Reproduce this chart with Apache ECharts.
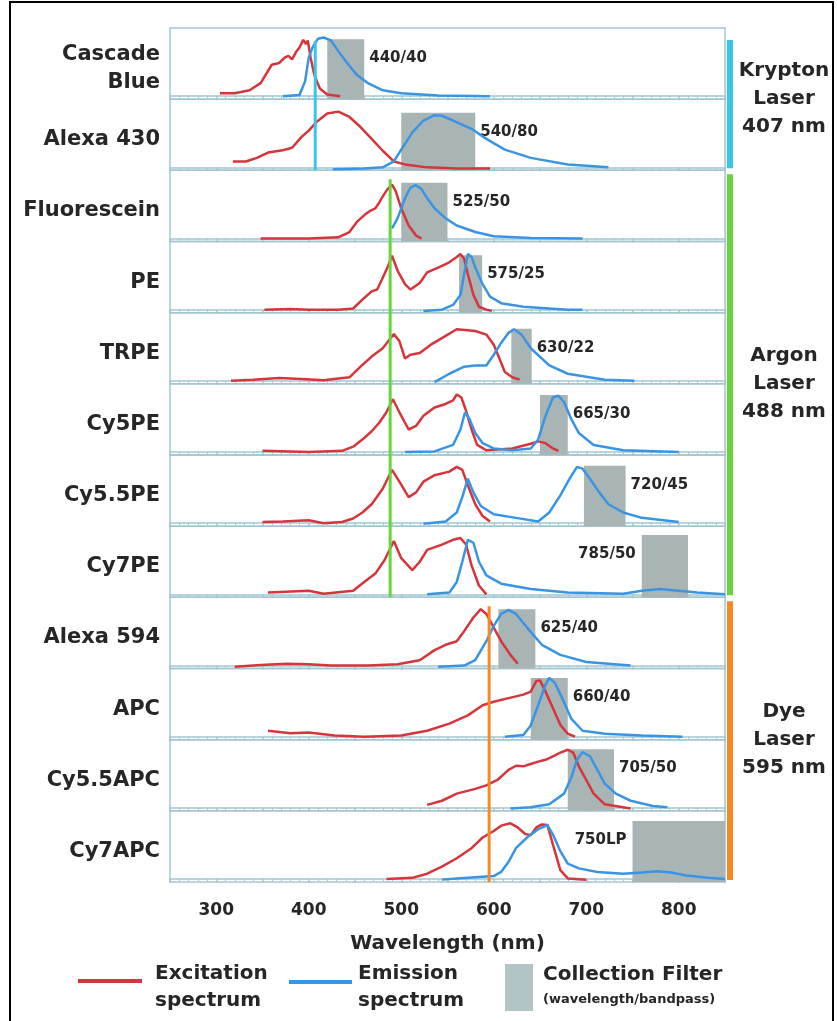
<!DOCTYPE html>
<html>
<head>
<meta charset="utf-8">
<script src="https://cdn.jsdelivr.net/npm/echarts@6/dist/echarts.min.js"></script>
<style>
  html, body { margin: 0; padding: 0; background: #fff; }
  #myChart { width: 837px; height: 1021px; }
</style>
</head>
<body>
<div id="myChart"></div>
<script>
// dye names, one panel each (top to bottom)
const dyeNames = ['Cascade\nBlue', 'Alexa 430', 'Fluorescein', 'PE', 'TRPE', 'Cy5PE',
  'Cy5.5PE', 'Cy7PE', 'Alexa 594', 'APC', 'Cy5.5APC', 'Cy7APC']

// collection filters (wavelength/bandpass)
const filterLabels = ['440/40', '540/80', '525/50', '575/25', '630/22', '665/30',
  '720/45', '785/50', '625/40', '660/40', '705/50', '750LP']
const filterLo = [420, 500, 500, 562.5, 619, 650, 697.5, 760, 605, 640, 680, 750]
const filterHi = [460, 580, 550, 587.5, 641, 680, 742.5, 810, 645, 680, 730, 850]
const filterTop = [0.96, 0.92, 0.94, 0.92, 0.88, 0.96, 0.97, 1.0, 0.95, 0.99, 0.99, 0.98]
const filterLabelSide = ['r', 'r', 'r', 'r', 'r', 'r', 'r', 'l', 'r', 'r', 'r', 'l']

// lasers
const laserNames = ['Krypton\nLaser\n407 nm', 'Argon\nLaser\n488 nm', 'Dye\nLaser\n595 nm']
const laserNm = [407, 488, 595]
const laserFirst = [0, 2, 8]
const laserLast = [1, 7, 11]
const laserStartV = [0.93, 1.0, 1.0]

// spectra: [wavelength nm, relative intensity]
const cascadeBlueEx = [[304,0.05],[320,0.05],[336,0.1],[348,0.22],[360,0.53],[368,0.56],[374,0.65],[378,0.68],[382,0.62],[386,0.74],[390,0.82],[394,0.95],[397,0.88],[399,0.94],[402,0.65],[406,0.36],[412,0.13],[420,0.03],[434,0]]
const cascadeBlueEm = [[372,0],[390,0.02],[396,0.25],[400,0.65],[404,0.82],[410,0.97],[416,0.99],[424,0.94],[432,0.76],[440,0.59],[452,0.36],[464,0.22],[480,0.1],[500,0.05],[540,0.01],[596,0]]
const alexa430Ex = [[318,0.1],[332,0.1],[344,0.16],[356,0.25],[372,0.29],[382,0.33],[392,0.51],[400,0.62],[408,0.76],[420,0.91],[432,0.94],[444,0.85],[456,0.68],[468,0.48],[480,0.28],[492,0.1],[504,0.05],[528,0],[560,-0.02],[596,-0.02]]
const alexa430Em = [[426,-0.03],[460,-0.02],[480,0],[492,0.1],[500,0.3],[512,0.59],[524,0.79],[536,0.88],[544,0.87],[556,0.79],[576,0.65],[592,0.48],[612,0.3],[640,0.16],[680,0.05],[724,0]]
const fluoresceinEx = [[348,0],[400,0],[432,0.02],[444,0.11],[452,0.28],[462,0.42],[468,0.48],[472,0.51],[476,0.6],[480,0.71],[485,0.83],[490,0.91],[494,0.8],[500,0.51],[508,0.22],[516,0.05],[522,0]]
const fluoresceinEm = [[490,0.17],[496,0.34],[504,0.68],[510,0.86],[516,0.9],[522,0.83],[528,0.68],[536,0.51],[548,0.34],[560,0.22],[580,0.11],[600,0.04],[640,0.01],[696,0]]
const peEx = [[352,0],[380,0.01],[400,0],[432,0],[448,0.02],[458,0.17],[468,0.31],[474,0.34],[480,0.54],[485,0.71],[490,0.91],[496,0.66],[504,0.43],[510,0.34],[520,0.45],[528,0.63],[540,0.71],[552,0.8],[560,0.89],[564,0.94],[568,0.86],[572,0.6],[578,0.25],[584,0.05],[592,0],[598,-0.02]]
const peEm = [[524,-0.02],[544,0],[556,0.08],[564,0.25],[568,0.6],[572,0.94],[576,0.89],[580,0.71],[588,0.43],[596,0.22],[608,0.11],[632,0.05],[660,0.02],[680,0],[696,0]]
const trpeEx = [[316,0],[340,0.02],[368,0.05],[392,0.03],[416,0.01],[444,0.06],[456,0.24],[468,0.41],[480,0.55],[492,0.79],[498,0.67],[504,0.38],[510,0.44],[520,0.47],[532,0.61],[544,0.72],[560,0.87],[580,0.84],[592,0.78],[600,0.61],[606,0.38],[612,0.15],[620,0.06],[628,0.02]]
const trpeEm = [[536,-0.02],[552,0.12],[568,0.24],[580,0.26],[592,0.26],[600,0.44],[608,0.64],[616,0.81],[622,0.87],[630,0.78],[640,0.55],[660,0.26],[680,0.12],[720,0.02],[752,0]]
const cy5peEx = [[350,0.02],[400,0],[436,0.02],[448,0.09],[458,0.21],[468,0.35],[476,0.49],[484,0.67],[491,0.89],[498,0.67],[508,0.38],[516,0.44],[524,0.61],[536,0.75],[548,0.81],[556,0.87],[560,0.97],[565,0.92],[570,0.7],[576,0.38],[582,0.12],[592,0.03],[620,0.06],[640,0.14],[648,0.18],[656,0.15],[664,0.06],[670,0.02]]
const cy5peEm = [[504,0],[536,0.01],[556,0.12],[564,0.38],[569,0.67],[574,0.55],[580,0.32],[588,0.15],[600,0.06],[620,0.03],[640,0.06],[648,0.21],[656,0.61],[664,0.92],[670,0.95],[676,0.84],[684,0.55],[692,0.32],[708,0.12],[740,0.03],[800,0]]
const cy55peEx = [[350,0.02],[372,0.03],[400,0.05],[416,0],[436,0.02],[448,0.08],[458,0.18],[468,0.32],[480,0.58],[490,0.9],[498,0.7],[508,0.44],[516,0.52],[524,0.7],[536,0.81],[552,0.87],[560,0.95],[566,0.9],[572,0.64],[580,0.32],[588,0.12],[596,0.03]]
const cy55peEm = [[524,-0.01],[548,0.03],[560,0.18],[566,0.44],[572,0.75],[578,0.52],[586,0.29],[600,0.15],[624,0.09],[648,0.03],[660,0.18],[672,0.47],[682,0.75],[690,0.95],[696,0.92],[704,0.75],[714,0.52],[724,0.32],[740,0.18],[760,0.09],[800,0.02]]
const cy7peEx = [[356,0.03],[400,0.06],[416,0.01],[448,0.06],[460,0.21],[472,0.35],[482,0.58],[492,0.9],[500,0.61],[512,0.41],[520,0.55],[528,0.75],[544,0.84],[556,0.92],[564,0.95],[570,0.84],[576,0.49],[584,0.15],[592,0]]
const cy7peEm = [[528,0],[552,0.03],[560,0.21],[566,0.55],[572,0.92],[578,0.87],[584,0.55],[592,0.32],[608,0.18],[640,0.09],[680,0.03],[740,0.01],[760,0.06],[780,0.09],[800,0.06],[820,0.03],[850,0]]
const alexa594Ex = [[320,-0.02],[348,0.01],[376,0.03],[400,0.02],[424,0],[464,0],[496,0.02],[520,0.09],[536,0.26],[548,0.35],[560,0.41],[568,0.58],[578,0.81],[586,0.95],[592,0.87],[600,0.64],[608,0.41],[618,0.18],[626,0.03]]
const alexa594Em = [[540,-0.02],[568,0],[580,0.09],[592,0.41],[600,0.67],[608,0.87],[616,0.94],[624,0.87],[636,0.64],[652,0.35],[672,0.18],[700,0.06],[748,0]]
const apcEx = [[356,0.1],[380,0.06],[400,0.07],[428,0.02],[460,0],[500,0.02],[528,0.1],[552,0.22],[572,0.36],[588,0.53],[600,0.59],[616,0.65],[632,0.71],[640,0.76],[646,0.94],[650,0.95],[656,0.76],[664,0.48],[672,0.2],[680,0.05],[688,0]]
const apcEm = [[612,0],[632,0.03],[640,0.19],[648,0.53],[656,0.88],[660,0.99],[666,0.91],[674,0.65],[684,0.3],[696,0.1],[720,0.05],[760,0.02],[804,0]]
const cy55apcEx = [[528,0.05],[544,0.12],[560,0.24],[580,0.32],[592,0.38],[604,0.47],[616,0.64],[624,0.71],[632,0.7],[640,0.74],[648,0.78],[656,0.81],[664,0.87],[672,0.93],[680,0.98],[686,0.93],[692,0.7],[700,0.47],[708,0.24],[720,0.06],[748,-0.01]]
const cy55apcEm = [[618,-0.01],[640,0.01],[660,0.06],[676,0.24],[684,0.52],[690,0.81],[696,0.94],[704,0.87],[712,0.64],[720,0.41],[732,0.24],[748,0.12],[772,0.03],[788,0.01]]
const cy7apcEx = [[484,0],[512,0.02],[528,0.09],[544,0.21],[560,0.35],[576,0.52],[588,0.7],[600,0.81],[608,0.9],[618,0.94],[626,0.87],[634,0.76],[640,0.74],[646,0.87],[652,0.92],[658,0.91],[664,0.58],[672,0.15],[680,0.01],[700,-0.01]]
const cy7apcEm = [[544,-0.01],[560,0.01],[580,0.03],[600,0.05],[608,0.12],[616,0.29],[624,0.52],[636,0.7],[648,0.84],[658,0.91],[664,0.75],[672,0.47],[680,0.26],[692,0.18],[712,0.12],[740,0.09],[760,0.11],[776,0.13],[792,0.11],[808,0.06],[832,0.02],[850,0]]

const excitation = [cascadeBlueEx, alexa430Ex, fluoresceinEx, peEx, trpeEx, cy5peEx,
  cy55peEx, cy7peEx, alexa594Ex, apcEx, cy55apcEx, cy7apcEx]
const emission = [cascadeBlueEm, alexa430Em, fluoresceinEm, peEm, trpeEm, cy5peEm,
  cy55peEm, cy7peEm, alexa594Em, apcEm, cy55apcEm, cy7apcEm]

// 300..800 tick labels on the bottom axis
const tickLabels = [300, 400, 500, 600, 700, 800]

// layout / styles
const FONT = 'DejaVu Sans'
const TEXT = '#262626'
const RED = '#d6353c'
const BLUE = '#3a94e4'
const AXIS = '#a3c6d2'
const FILTER = '#a9b4b4'
const laserColors = ['#35c6ea', '#68d43c', '#f48a26']
const plotLeft = 170
const plotWidth = 555
const plotTop = 28
const panelH = 854 / 12
const yMin = -0.05
const yMax = 1.15

let myChart = echarts.init(document.getElementById('myChart'))

let grids = []
let xAxes = []
let yAxes = []
let series = []
let graphics = []

for (let i = 0; i < dyeNames.length; i++) {
  let last = i === dyeNames.length - 1
  grids.push({
    left: plotLeft, width: plotWidth,
    top: plotTop + i * panelH, height: panelH,
    show: true, borderColor: AXIS, borderWidth: 1.5,
  })
  xAxes.push({
    gridIndex: i, type: 'value', min: 250, max: 850, interval: 50,
    axisLine: { show: true, lineStyle: { color: AXIS, width: 1.5 } },
    axisTick: { show: true, length: 4, lineStyle: { color: AXIS, width: 1.5 } },
    minorTick: { show: true, splitNumber: 5, length: 2, lineStyle: { color: AXIS } },
    splitLine: { show: false },
    axisLabel: last ? {
      show: true, margin: 20, fontFamily: FONT, fontWeight: 'bold', fontSize: 17, color: TEXT,
      formatter: (v) => (tickLabels.indexOf(v) >= 0 ? String(v) : ''),
    } : { show: false },
    name: last ? 'Wavelength (nm)' : '',
    nameLocation: 'middle', nameGap: 52,
    nameTextStyle: { fontFamily: FONT, fontWeight: 'bold', fontSize: 20, color: TEXT },
  })
  yAxes.push({ gridIndex: i, type: 'value', min: yMin, max: yMax, show: false })

  let left = filterLabelSide[i] === 'l'
  series.push({
    type: 'line', xAxisIndex: i, yAxisIndex: i, data: excitation[i],
    showSymbol: false, symbol: 'none', lineStyle: { color: RED, width: 2.5 }, z: 3,
    markArea: {
      silent: true,
      itemStyle: { color: FILTER, opacity: 1 },
      label: {
        show: true,
        position: left ? [0, 19] : ['100%', 19],
        offset: left ? [-6, 0] : [5, 0],
        align: left ? 'right' : 'left',
        verticalAlign: 'middle',
        fontFamily: FONT, fontWeight: 'bold', fontSize: 15, color: TEXT,
      },
      data: [[
        { name: filterLabels[i], xAxis: filterLo[i], yAxis: yMin },
        { xAxis: filterHi[i], yAxis: filterTop[i] },
      ]],
    },
  })
  series.push({
    type: 'line', xAxisIndex: i, yAxisIndex: i, data: emission[i],
    showSymbol: false, symbol: 'none', lineStyle: { color: BLUE, width: 2.5 }, z: 4,
  })

  graphics.push({
    type: 'text',
    x: 160, y: plotTop + (i + 0.5) * panelH + 5,
    style: {
      text: dyeNames[i], fill: TEXT, font: 'bold 21px "' + FONT + '"',
      align: 'right', verticalAlign: 'middle', lineHeight: 28,
    },
  })
}

// laser lines and group bars
for (let k = 0; k < laserNm.length; k++) {
  for (let i = laserFirst[k]; i <= laserLast[k]; i++) {
    let top = i === laserFirst[k] ? laserStartV[k] : yMax
    series.push({
      type: 'line', xAxisIndex: i, yAxisIndex: i,
      data: [[laserNm[k], yMin], [laserNm[k], top]],
      showSymbol: false, symbol: 'none', lineStyle: { color: laserColors[k], width: 3 }, z: 5,
    })
  }
  let y0 = plotTop + laserFirst[k] * panelH
  let y1 = plotTop + (laserLast[k] + 1) * panelH
  let pad = k === 0 ? 12 : 4
  graphics.push({
    type: 'rect',
    shape: { x: 727, y: y0 + pad, width: 6, height: y1 - y0 - pad - 2 },
    style: { fill: laserColors[k] },
  })
  let mid = (laserFirst[k] + laserLast[k] + 1) / 2
  graphics.push({
    type: 'text', x: 784, y: plotTop + mid * panelH,
    style: {
      text: laserNames[k], fill: TEXT, font: 'bold 20px "' + FONT + '"',
      align: 'center', verticalAlign: 'middle', lineHeight: 28,
    },
  })
}

// legend
graphics.push(
  { type: 'line', shape: { x1: 78, y1: 981, x2: 142, y2: 981 }, style: { stroke: RED, lineWidth: 4 } },
  { type: 'text', x: 155, y: 987, style: { text: 'Excitation\nspectrum', fill: TEXT, font: 'bold 20px "' + FONT + '"', verticalAlign: 'middle', lineHeight: 27 } },
  { type: 'line', shape: { x1: 289, y1: 982, x2: 352, y2: 982 }, style: { stroke: BLUE, lineWidth: 4 } },
  { type: 'text', x: 358, y: 987, style: { text: 'Emission\nspectrum', fill: TEXT, font: 'bold 20px "' + FONT + '"', verticalAlign: 'middle', lineHeight: 27 } },
  { type: 'rect', shape: { x: 505, y: 964, width: 28, height: 47 }, style: { fill: '#b3c4c6' } },
  { type: 'text', x: 543, y: 975, style: { text: 'Collection Filter', fill: TEXT, font: 'bold 20px "' + FONT + '"', verticalAlign: 'middle' } },
  { type: 'text', x: 543, y: 1000, style: { text: '(wavelength/bandpass)', fill: TEXT, font: 'bold 13px "' + FONT + '"', verticalAlign: 'middle' } },
  // outer frame
  { type: 'rect', shape: { x: 10, y: 2, width: 823, height: 1040 }, style: { fill: 'none', stroke: '#000', lineWidth: 2 }, silent: true }
)

myChart.setOption({
  animation: false,
  grid: grids,
  xAxis: xAxes,
  yAxis: yAxes,
  series: series,
  graphic: graphics,
})
</script>
</body>
</html>
